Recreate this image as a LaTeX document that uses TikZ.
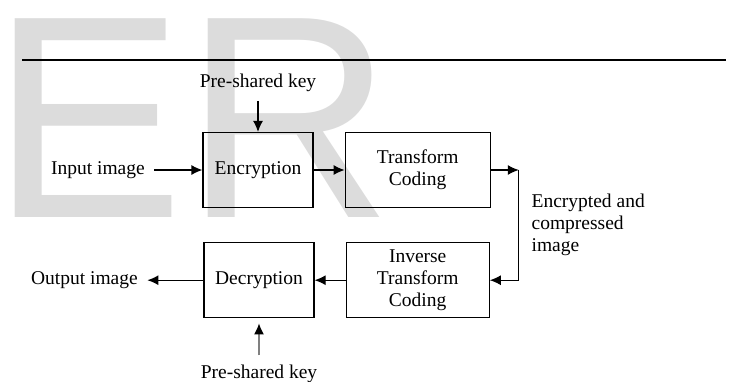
\documentclass[tikz,border=0pt]{standalone}
\usepackage{fontspec}
\setmainfont{Liberation Serif}
\newfontfamily\wmfont{Liberation Sans}
\usepackage{tikz}
\usetikzlibrary{arrows.meta,positioning,calc}
\definecolor{wmgray}{HTML}{DCDCDC}

\begin{document}
\begin{tikzpicture}[x=1pt,y=-1pt,>={Latex[length=11pt,width=10pt]},line width=1.2pt,
  font=\fontsize{19.5}{22}\selectfont,
  blk/.style={draw,minimum width=110pt,minimum height=75pt,align=center,inner sep=2pt},
  txt/.style={inner sep=9pt,align=center}]
  \useasboundingbox (0,0) rectangle (732,381);
  % watermark and rule
  \node[text=wmgray,inner sep=0pt,anchor=base west,font=\wmfont\fontsize{289}{289}\selectfont] (wm) at (-9,217) {ER};
  \coordinate (rl) at (22,60);
  \coordinate (rr) at (726,60);
  \draw (rl) -- (rr);
  % blocks
  \node[blk] (enc) at (258,170) {Encryption};
  \node[blk,minimum width=145pt,right=31pt of enc] (tc) {Transform\\Coding};
  \node[blk,minimum width=143pt,below=34pt of tc] (itc) {Inverse\\Transform\\Coding};
  \node[blk,left=31pt of itc] (dec) {Decryption};
  \coordinate[right=28pt of tc] (bend);
  % labels
  \node[txt,left=48pt of enc] (inp) {Input image};
  \node[txt,left=56pt of dec] (outp) {Output image};
  \node[txt,above=31pt of enc] (key1) {Pre-shared key};
  \node[txt,below=37pt of dec] (key2) {Pre-shared key};
  \node[inner sep=0pt,anchor=west,align=left] (eci) at (531,225) {Encrypted and\\compressed\\image};
  % connectors
  \draw[->] (inp) -- (enc);
  \draw[->] (key1) -- (enc);
  \draw[->] (enc) -- (tc);
  \draw[->] (tc) -- (bend);
  \draw[->] (bend) |- (itc);
  \draw[->] (itc) -- (dec);
  \draw[->] (dec) -- (outp);
  \draw[-{Latex[length=11pt,width=10pt,color=black]},draw=gray,line width=1.6pt,shorten >=5pt] (key2) -- (dec);
\end{tikzpicture}
\end{document}
